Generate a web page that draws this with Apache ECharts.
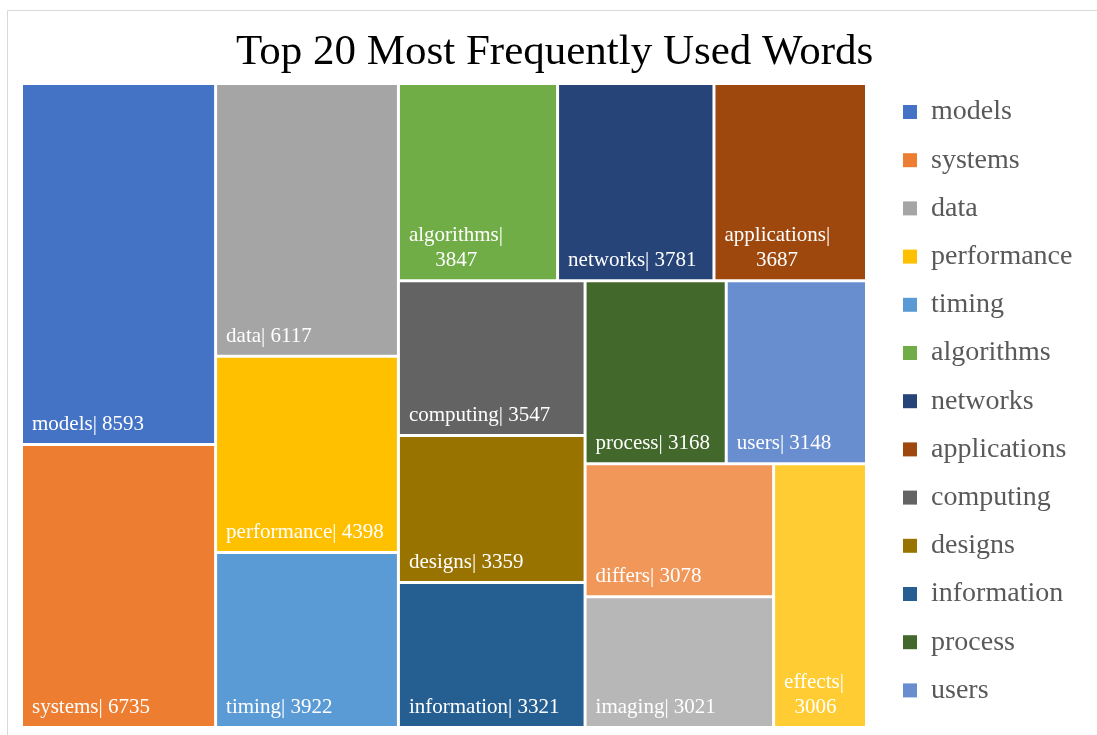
<!DOCTYPE html>
<html><head><meta charset="utf-8">
<script src="https://cdn.jsdelivr.net/npm/echarts@6/dist/echarts.min.js"></script>
<style>html,body{margin:0;padding:0;background:#fff}#c{width:1097px;height:735px}</style>
</head><body><div id="c"></div>
<script>
const words = ['models','systems','data','performance','timing','algorithms','networks','applications','computing','designs','information','process','users','differs','imaging','effects'];
const counts = [8593,6735,6117,4398,3922,3847,3781,3687,3547,3359,3321,3168,3148,3078,3021,3006];
const colors = ['#4472C4','#ED7D31','#A5A5A5','#FFC000','#5B9BD5','#70AD47','#264478','#9E480E','#636363','#997300','#255E91','#43682B','#698ED0','#F1975A','#B7B7B7','#FFCD33'];
const legendWords = words.slice(0, 13);
const wrappedWords = ['algorithms','applications','effects'];
const titleText = 'Top 20 Most Frequently Used Words';
const FONT = '"Liberation Serif", "Times New Roman", serif';

const ctx = document.createElement('canvas').getContext('2d');
ctx.font = '21px ' + FONT;
function labelText(name, value) {
  if (wrappedWords.indexOf(name) < 0) return name + '| ' + value;
  const pad = (ctx.measureText(name + '|').width - ctx.measureText(String(value)).width) / 2;
  const n = Math.max(0, Math.round(pad / ctx.measureText(' ').width));
  return name + '|\n' + ' '.repeat(n) + value;
}

const chart = echarts.init(document.getElementById('c'), null, {renderer: 'canvas'});
chart.setOption({
  animation: false,
  backgroundColor: '#fff',
  graphic: [{
    type: 'rect', silent: true, z: -10,
    shape: {x: 7.5, y: 10.5, width: 1200, height: 1000},
    style: {fill: 'none', stroke: '#D9D9D9', lineWidth: 1}
  }],
  title: {
    text: titleText, left: 236, top: 31, padding: 0,
    textStyle: {fontFamily: FONT, fontSize: 43, fontWeight: 'normal', color: '#000'}
  },
  legend: {
    orient: 'vertical', left: 903, top: 98, padding: 0,
    data: legendWords, icon: 'rect', itemWidth: 14, itemHeight: 14, itemGap: 20.2,
    selectedMode: false,
    textStyle: {fontFamily: FONT, fontSize: 28, lineHeight: 28, color: '#595959', padding: [0, 0, 0, 9]}
  },
  series: [{
    type: 'treemap',
    left: 23, top: 85, width: 842, height: 641,
    squareRatio: 0.872,
    roam: false, nodeClick: false,
    breadcrumb: {show: false},
    itemStyle: {gapWidth: 3, borderWidth: 0, borderColor: '#fff'},
    upperLabel: {show: false},
    label: {
      show: true, position: 'insideBottomLeft', distance: 4, offset: [0, 3],
      color: '#fff', fontFamily: FONT, fontSize: 21, lineHeight: 25,
      formatter: function (p) { return labelText(p.name, p.value); }
    },
    data: words.map(function (w, i) { return {name: w, value: counts[i], itemStyle: {color: colors[i]}}; })
  }, {
    type: 'pie', radius: [0, 0], center: [-200, -200], silent: true,
    label: {show: false}, labelLine: {show: false},
    data: words.map(function (w, i) { return {name: w, value: counts[i], itemStyle: {color: colors[i]}}; })
  }]
});
</script>
</body></html>
